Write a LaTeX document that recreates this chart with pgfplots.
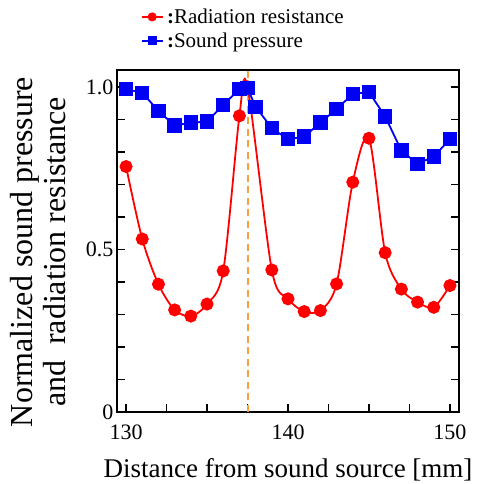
\documentclass[border=0pt]{standalone}
\usepackage{fontspec}
\setmainfont{Liberation Serif}
\usepackage{pgfplots}
\pgfplotsset{compat=1.18}
\definecolor{dorange}{RGB}{248,160,64}
\definecolor{pblue}{RGB}{0,0,245}
\definecolor{pred}{RGB}{255,0,0}
\begin{document}
\begin{tikzpicture}[x=1bp,y=1bp]
\path[use as bounding box] (0,0) rectangle (481,484);
\begin{axis}[
  at={(117bp,72bp)}, anchor=south west,
  width=342bp, height=342bp, scale only axis,
  xmin=129.44, xmax=150.56, ymin=0, ymax=1.052,
  axis line style={line width=2.4bp},
  tick align=inside,
  xtick pos=lower,
  xtick={130,140,150},
  minor xtick={132.5,135,137.5,142.5,145,147.5},
  ytick={0,0.5,1},
  yticklabels={0,0.5,1.0},
  minor ytick={0.1,0.2,0.3,0.4,0.6,0.7,0.8,0.9},
  major tick length=8bp, minor tick length=8bp,
  every tick/.style={line width=1.8bp, black},
  /pgf/number format/assume math mode=true,
  ticklabel style={font=\fontsize{22bp}{26bp}\selectfont},
  xticklabel style={yshift=-9bp},
  xlabel={Distance from sound source [mm]},
  xlabel style={at={(axis description cs:0.5,-0.1696)}, anchor=center, font=\fontsize{27bp}{32bp}\selectfont},
  ylabel={Normalized sound pressure\\and\ \ radiation resistance},
  ylabel style={at={(axis description cs:-0.2295,0.468)}, anchor=center, align=center, font=\fontsize{32bp}{33bp}\selectfont},
  legend style={at={(axis description cs:0.066,1.188)}, anchor=north west, draw=none, fill=none,
    font=\fontsize{21bp}{24bp}\selectfont, row sep=4bp, inner sep=1bp},
  legend cell align=left,
  legend image code/.code={\draw[mark repeat=2,mark phase=2,#1,mark size=3.6bp] plot coordinates {(0bp,0bp) (10.5bp,0bp) (21bp,0bp)};},
  clip=false,
]
\addplot[dorange, line width=2bp, dash pattern={on 7bp off 4.5bp}, forget plot] table[row sep=\\] {x y\\ 137.5 0\\ 137.5 1.052\\};
\addplot[pred, line width=1.8bp, smooth, mark=*, mark size=5.6bp, mark options={solid, fill=pred, draw=pred}] coordinates {
(130,0.755) (131,0.532) (132,0.393) (133,0.314) (134,0.295) (135,0.332) (136,0.434) (137,0.911) (137.5,1.0)
(139,0.437) (140,0.348) (141,0.309) (142,0.312) (143,0.394) (144,0.707) (145,0.842) (146,0.490)
(147,0.378) (148,0.338) (149,0.322) (150,0.389)
};
\addlegendentry{\hspace{1.5bp}\textbf{:}Radiation resistance}
\addplot[pblue, line width=1.8bp, mark=square*, mark size=6.3bp, mark options={solid, fill=pblue, draw=pblue}] coordinates {
(130,0.993) (131,0.982) (132,0.926) (133,0.881) (134,0.890) (135,0.893) (136,0.945) (137,0.993) (137.5,0.996)
(138,0.939) (139,0.873) (140,0.839) (141,0.847) (142,0.890) (143,0.932) (144,0.978) (145,0.984)
(146,0.909) (147,0.804) (148,0.763) (149,0.786) (150,0.839)
};
\addlegendentry{\hspace{1.5bp}\textbf{:}Sound pressure}
\end{axis}
\end{tikzpicture}
\end{document}
